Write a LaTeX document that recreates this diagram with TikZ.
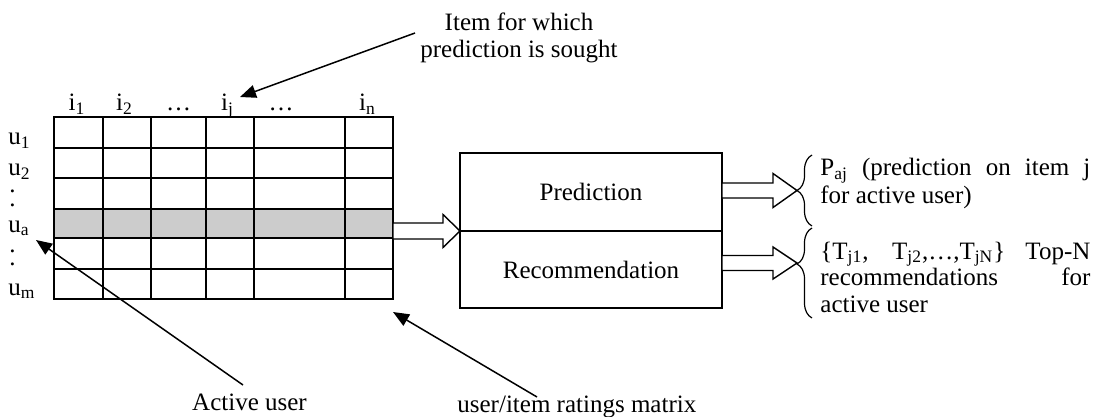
\documentclass[tikz,border=0pt]{standalone}
\usepackage{fontspec}
\setmainfont{Liberation Serif}
\usetikzlibrary{arrows.meta,calc,decorations.pathreplacing}
\definecolor{rowgrey}{HTML}{CCCCCC}
% hollow block arrow: #1 start, #2 tip, #3 shaft half height, #4 head length, #5 head half height
\newcommand\blockarr[5]{%
  \draw[barrow] ($(#1)+(0,-#3)$) -- ($(#2)+(-#4,-#3)$) -- ($(#2)+(-#4,-#5)$) -- (#2)
    -- ($(#2)+(-#4,#5)$) -- ($(#2)+(-#4,#3)$) -- ($(#1)+(0,#3)$) -- cycle;}
\begin{document}
\begin{tikzpicture}[x=0.5pt,y=-0.5pt,
  lbl/.style={inner sep=0pt, font=\fontsize{12.5}{13.5}\selectfont},
  ptr/.style={line width=0.75pt, -{Triangle[length=8pt,width=6.5pt]}},
  gridline/.style={line width=1pt, line cap=rect},
  barrow/.style={line width=0.7pt, fill=white, line join=miter},
  brc/.style={line width=0.6pt, decorate, decoration={brace, amplitude=7.5pt, raise=0pt}},
  boxpart/.style={draw, line width=1pt, inner sep=0pt, outer sep=0pt,
    minimum width=131pt, font=\fontsize{12.5}{13.5}\selectfont},
]
\useasboundingbox (0,0) rectangle (1097,417);

% ---- user/item ratings matrix ----
\fill[rowgrey] (54,209) rectangle (393,238);
\foreach \y in {117,148,178,209,238,269,299} \draw[gridline] (54,\y) -- (393,\y);
\foreach \x in {54,103,151,206,254,345,393} \draw[gridline] (\x,117) -- (\x,299);
\coordinate (gridE) at (393,231);
\coordinate (gridSE) at (393,312);

% column headers
\node[lbl, anchor=base] (c1) at (77,111) {i\textsubscript{1}};
\node[lbl, anchor=base] (c2) at (124.5,111) {i\textsubscript{2}};
\node[lbl, anchor=base] (c3) at (178.5,111) {…};
\node[lbl, anchor=base] (cj) at (227.5,111) {i\textsubscript{j}};
\node[lbl, anchor=base] (c5) at (281,111) {…};
\node[lbl, anchor=base] (cn) at (367.5,111) {i\textsubscript{n}};

% row headers
\node[lbl, anchor=base west] (r1) at (8,145) {u\textsubscript{1}};
\node[lbl, anchor=base west] (r2) at (8,176) {u\textsubscript{2}};
\node[lbl, anchor=base west] (d1) at (9,192) {.};
\node[lbl, anchor=base west] (d2) at (9,206) {.};
\node[lbl, anchor=base west] (ra) at (8,232) {u\textsubscript{a}};
\node[lbl, anchor=base west] (d3) at (9,252) {.};
\node[lbl, anchor=base west] (d4) at (9,265) {.};
\node[lbl, anchor=base west] (rm) at (8,295) {u\textsubscript{m}};

% ---- prediction / recommendation box ----
\node[boxpart, minimum height=39pt] (pred) at (591,192) {Prediction};
\node[boxpart, minimum height=38.5pt] (rec) at (591,269.5) {Recommendation};

\blockarr{gridE}{pred.south west}{8}{17}{16.5}

% ---- outputs ----
\coordinate (b1tip) at (797,190.5);
\coordinate (b2tip) at (797,263);
\coordinate (pa0) at (pred.east |- b1tip);
\coordinate (ra0) at (rec.east |- b2tip);
\blockarr{pa0}{b1tip}{7.5}{24}{17}
\blockarr{ra0}{b2tip}{7.5}{24}{16}

\draw[brc] (812,226) -- (812,155);
\draw[brc, decoration={aspect=0.6}] (812,318) -- (812,228);

\node[lbl, anchor=base west] (pajA) at (820,176)
  {\makebox[135pt][s]{P\textsubscript{aj} (prediction on item j}};
\node[lbl, anchor=base west] (pajB) at (820,203) {for active user)};
\node[lbl, anchor=base west] (topA) at (820,259)
  {\makebox[135pt][s]{\{T\textsubscript{j1}, T\textsubscript{j2},…,T\textsubscript{jN}\} Top-N}};
\node[lbl, anchor=base west] (topB) at (820,285.5)
  {\makebox[135pt][s]{recommendations for}};
\node[lbl, anchor=base west] (topC) at (820,312) {active user};

% ---- callouts ----
\node[lbl, anchor=base] (itemA) at (519,31) {Item for which};
\node[lbl, anchor=base] (itemB) at (519,58) {prediction is sought};
\node[lbl, anchor=base] (actv) at (249.5,410) {Active user};
\node[lbl, anchor=base west] (mtx) at (457,412) {user/item ratings matrix};

\coordinate (itemP) at (415,33);
\coordinate (cjTip) at (240,97);
\coordinate (actvP) at (243,385);
\coordinate (raTip) at (36,240);
\coordinate (mtxP) at (537,397);

\draw[ptr] (itemP) -- (cjTip);
\draw[ptr] (actvP) -- (raTip);
\draw[ptr] (mtxP) -- (gridSE);
\end{tikzpicture}
\end{document}
